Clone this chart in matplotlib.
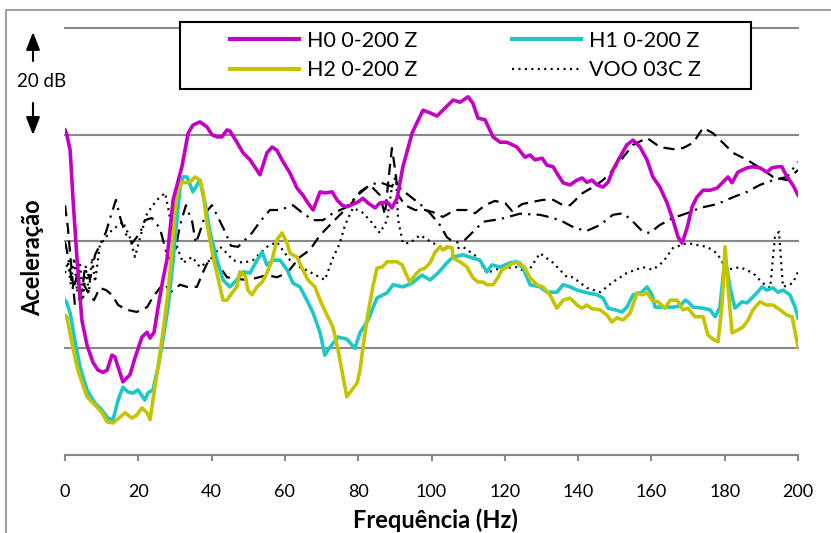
import matplotlib
matplotlib.use('Agg')
import matplotlib.pyplot as plt
from matplotlib.lines import Line2D
from matplotlib.patches import Rectangle, FancyArrowPatch

plt.rcParams['font.family'] = ['Lato', 'DejaVu Sans']

# H0 0-200 Z  (relative level, dB)
h0_freq = [0, 0.5, 1.4, 2.2, 3.3, 4.6, 6.0, 7.6, 9.0, 10.4, 11.5, 12.8, 13.6, 15.8, 17.7, 19.1,
           21.0, 22.4, 23.2, 24.3, 25.4, 26.7, 27.8, 29.5, 31.9, 33.6, 34.9, 36.8, 38.7, 40.1,
           41.5, 42.8, 44.2, 45.0, 46.9, 48.6, 50.5, 53.2, 55.1, 56.5, 57.8, 59.2, 61.4, 63.3,
           64.9, 66.3, 67.7, 69.6, 70.9, 72.9, 74.2, 75.6, 76.9, 78.6, 79.9, 81.3, 82.7, 84.6,
           85.9, 87.9, 89.2, 90.6, 92.2, 94.7, 95.5, 97.7, 99.6, 101.5, 103.1, 105.9, 107.8,
           110.0, 111.3, 112.7, 114.6, 116.8, 118.7, 120.6, 123.3, 125.5, 126.9, 128.2, 130.2,
           131.5, 133.2, 134.5, 135.9, 137.8, 139.7, 141.1, 142.4, 143.8, 145.2, 146.8, 148.2,
           149.5, 151.4, 153.3, 155.0, 156.9, 158.8, 160.4, 162.3, 164.3, 165.9, 167.3, 168.4,
           169.8, 171.1, 172.4, 174.1, 176.0, 177.9, 179.5, 180.9, 182.0, 183.6, 186.1, 187.7,
           189.6, 191.5, 192.9, 194.5, 195.6, 197.0, 198.6, 200]
h0_level = [60.9, 60.0, 57.1, 47.8, 36.5, 25.3, 20.6, 17.4, 15.9, 15.5, 15.9, 18.7, 18.4, 13.7,
            15.0, 18.2, 22.1, 23.0, 21.9, 23.0, 27.7, 32.8, 36.5, 47.8, 54.0, 60.3, 61.8, 62.4,
            61.5, 60.0, 59.6, 59.6, 60.9, 60.7, 58.6, 56.6, 55.3, 52.5, 56.6, 57.7, 57.1, 55.3,
            52.8, 50.0, 48.7, 47.2, 45.9, 49.3, 49.1, 49.3, 47.8, 46.8, 46.5, 47.0, 47.4, 48.1,
            47.2, 46.3, 47.2, 47.4, 46.3, 48.1, 54.0, 60.3, 61.5, 64.6, 64.1, 63.5, 64.6, 66.5,
            66.1, 67.1, 65.9, 63.1, 62.8, 59.6, 58.6, 58.6, 57.7, 55.8, 56.2, 55.3, 55.6, 54.3,
            54.0, 52.5, 51.0, 50.6, 51.5, 51.9, 51.1, 51.5, 50.6, 50.2, 51.1, 53.4, 55.8, 58.1,
            59.0, 57.7, 55.3, 52.1, 50.2, 47.2, 44.0, 40.8, 39.7, 42.7, 46.5, 48.3, 49.6, 49.6,
            50.0, 51.1, 52.1, 51.0, 53.0, 53.8, 54.0, 53.8, 53.0, 53.8, 54.0, 54.0, 52.1, 50.6,
            48.7]

# H1 0-200 Z
h1_freq = [0, 0.5, 1.4, 2.7, 4.1, 6.0, 8.2, 10.1, 11.7, 13.1, 14.5, 15.8, 17.2, 18.6, 19.9,
           21.8, 22.6, 24.0, 25.4, 26.7, 28.1, 29.5, 30.6, 31.4, 32.2, 33.3, 34.9, 36.8, 38.2,
           39.6, 41.5, 43.1, 45.0, 46.9, 48.6, 50.5, 52.4, 53.8, 55.1, 56.8, 58.7, 60.6, 62.2,
           64.1, 66.0, 67.7, 69.6, 70.9, 72.3, 74.5, 76.9, 79.1, 80.5, 82.7, 85.1, 87.9, 89.5,
           92.2, 94.7, 97.4, 99.6, 101.8, 104.2, 105.9, 108.6, 111.3, 113.2, 115.1, 116.5,
           118.7, 121.4, 123.3, 125.0, 126.9, 129.6, 131.5, 134.2, 135.9, 137.8, 139.7, 142.4,
           145.2, 146.8, 148.2, 150.1, 152.0, 153.3, 155.0, 157.4, 158.8, 160.2, 161.0, 163.2,
           165.9, 167.8, 169.2, 170.0, 171.4, 174.1, 176.0, 177.4, 178.7, 180.1, 181.4, 182.8,
           184.7, 186.1, 187.4, 188.8, 190.2, 191.5, 193.2, 194.5, 195.9, 197.8, 199.2, 200]
h1_level = [29.0, 28.5, 26.6, 21.5, 16.5, 12.2, 9.7, 8.4, 6.9, 6.6, 10.3, 12.7, 11.8, 11.6,
            12.2, 10.3, 11.6, 12.2, 16.5, 21.5, 27.7, 36.5, 44.6, 50.2, 52.1, 52.1, 49.3, 51.5,
            47.2, 41.6, 36.5, 32.8, 31.5, 32.8, 34.3, 34.1, 36.5, 38.0, 35.6, 36.5, 36.5, 34.7,
            32.2, 31.5, 29.0, 26.6, 22.9, 18.7, 20.2, 22.1, 21.7, 20.0, 22.9, 25.3, 29.4, 30.4,
            31.9, 31.5, 32.2, 33.7, 32.8, 34.1, 36.0, 37.1, 37.5, 36.9, 36.5, 34.3, 35.6, 35.2,
            36.0, 36.2, 35.0, 31.9, 31.5, 30.5, 30.5, 31.9, 31.5, 30.9, 30.4, 30.0, 29.4, 27.5,
            27.2, 26.8, 27.7, 30.0, 30.5, 31.5, 30.0, 27.7, 27.7, 27.7, 27.9, 29.0, 28.7, 27.7,
            27.5, 27.2, 25.9, 27.7, 37.0, 31.5, 27.5, 28.7, 28.5, 29.4, 30.4, 31.5, 30.9, 31.3,
            30.5, 30.9, 30.0, 27.7, 25.7]

# H2 0-200 Z
h2_freq = [0, 0.5, 1.9, 3.5, 6.0, 8.7, 10.1, 11.5, 13.1, 15.0, 16.4, 18.3, 19.6, 21.0, 22.4,
           23.2, 24.0, 25.4, 26.7, 28.1, 29.2, 30.0, 30.8, 31.9, 33.3, 34.7, 35.5, 36.8, 37.7,
           38.7, 40.4, 41.7, 43.1, 44.2, 45.6, 46.9, 47.7, 49.1, 49.9, 51.0, 52.4, 53.8, 55.1,
           56.5, 57.8, 59.2, 60.6, 61.4, 63.3, 64.9, 66.3, 68.2, 69.6, 71.5, 73.1, 74.5, 75.9,
           76.9, 78.3, 79.7, 80.5, 81.3, 82.7, 84.0, 85.1, 86.5, 87.9, 90.6, 92.0, 92.8, 94.1,
           95.5, 96.9, 98.2, 99.6, 101.0, 102.3, 103.1, 104.2, 105.6, 105.9, 107.8, 109.7,
           111.3, 112.7, 114.1, 115.1, 116.8, 118.1, 119.2, 120.6, 122.2, 124.1, 125.5, 126.9,
           128.8, 130.4, 132.3, 134.2, 135.9, 137.8, 139.7, 141.1, 142.4, 143.8, 146.0, 147.9,
           149.2, 150.6, 152.3, 154.2, 156.1, 157.4, 158.8, 160.2, 161.8, 163.7, 165.1, 167.0,
           168.6, 170.0, 171.9, 174.1, 175.4, 176.8, 178.2, 179.3, 180.1, 180.9, 182.0, 183.6,
           185.0, 186.4, 187.7, 189.6, 191.5, 193.2, 195.1, 197.0, 198.4, 200]
h2_level = [26.2, 25.9, 21.0, 15.9, 10.9, 9.0, 7.9, 6.2, 6.0, 7.1, 7.9, 6.9, 7.5, 8.8, 7.9, 6.6,
            10.3, 16.5, 22.9, 30.4, 38.4, 45.9, 49.6, 51.1, 51.0, 51.5, 52.1, 51.5, 49.1, 43.5,
            37.1, 33.3, 29.0, 29.0, 30.4, 31.5, 34.3, 33.7, 30.9, 30.0, 31.5, 32.4, 34.1, 36.5,
            40.3, 41.6, 39.7, 37.8, 37.1, 34.7, 32.8, 31.5, 29.0, 26.2, 24.0, 19.7, 14.6, 10.9,
            12.2, 13.5, 15.9, 20.2, 26.6, 31.5, 35.0, 35.2, 36.2, 36.2, 35.6, 34.3, 32.4, 33.7,
            34.7, 35.0, 36.0, 38.0, 39.0, 38.4, 39.0, 38.8, 36.9, 36.2, 35.2, 33.2, 32.4, 32.4,
            31.9, 31.9, 33.2, 34.7, 35.2, 36.0, 36.0, 35.0, 33.2, 31.9, 31.5, 30.0, 27.5, 29.0,
            29.4, 28.1, 27.5, 28.1, 27.4, 27.2, 26.2, 24.9, 25.7, 25.3, 26.6, 30.4, 30.0, 30.4,
            29.0, 28.7, 27.5, 29.0, 29.0, 27.2, 27.5, 25.9, 25.9, 22.5, 21.7, 21.2, 28.5, 39.0,
            31.5, 22.9, 23.4, 24.0, 25.3, 27.2, 28.7, 28.1, 28.1, 27.2, 26.2, 25.9, 20.2]

# VOO 03C Z
voo_freq = [0, 0.8, 1.6, 2.5, 3.3, 4.1, 4.9, 5.7, 6.5, 7.4, 8.2, 9.5, 12.3, 15.8, 17.7, 19.1,
            20.5, 22.4, 25.1, 27.3, 28.1, 29.2, 30.6, 32.2, 34.7, 36.8, 39.6, 42.3, 44.2, 45.8,
            48.6, 51.3, 55.1, 57.8, 61.4, 64.1, 66.8, 70.9, 73.1, 75.0, 76.4, 78.6, 81.0, 83.2,
            85.9, 87.9, 89.2, 90.3, 90.9, 92.2, 94.1, 96.9, 100.4, 105.0, 108.6, 112.4, 115.1,
            118.7, 123.3, 126.1, 129.6, 133.2, 137.0, 138.6, 142.4, 146.0, 149.5, 153.3, 157.7,
            160.4, 163.2, 165.9, 169.7, 175.2, 177.9, 180.6, 184.2, 187.7, 190.4, 192.4, 193.7,
            194.8, 195.9, 198.6, 200]
voo_level = [34.1, 36.2, 31.9, 36.9, 30.5, 36.2, 29.0, 35.0, 30.4, 36.9, 32.4, 39.3, 41.8,
             43.7, 40.8, 37.1, 40.8, 45.3, 47.8, 49.1, 46.5, 42.2, 39.0, 36.0, 37.1, 35.2, 36.5,
             39.0, 37.8, 36.5, 36.0, 36.5, 39.0, 39.9, 36.5, 35.2, 34.3, 32.8, 36.9, 39.7, 43.1,
             46.3, 45.5, 44.0, 41.6, 44.0, 50.2, 52.5, 44.0, 39.7, 39.7, 41.2, 39.7, 38.4, 39.0,
             37.1, 34.1, 35.0, 35.2, 34.1, 37.8, 36.0, 33.3, 33.3, 31.3, 30.5, 32.4, 34.1, 35.2,
             34.7, 36.2, 38.8, 39.7, 39.0, 37.8, 34.7, 35.2, 34.1, 32.2, 31.3, 40.8, 41.8, 31.5,
             32.2, 34.3]

# second reference (dashed)
ref_a_freq = [0, 0.8, 1.6, 2.7, 3.8, 4.9, 6.3, 7.9, 9.5, 11.2, 12.8, 14.5, 16.9, 19.6, 22.4,
              24.0, 25.9, 27.3, 28.6, 31.4, 33.3, 36.0, 37.7, 39.6, 41.5, 44.2, 46.9, 49.7, 52.4,
              55.1, 57.8, 60.6, 64.1, 66.8, 69.6, 72.3, 75.0, 77.8, 80.5, 83.2, 85.9, 87.3, 88.4,
              89.2, 90.0, 90.9, 92.8, 95.5, 98.2, 100.4, 103.1, 106.4, 109.7, 111.9, 114.6, 117.3,
              120.1, 122.0, 124.7, 127.4, 130.4, 133.2, 135.9, 137.8, 141.3, 144.1, 146.8, 149.5,
              152.3, 155.0, 158.8, 162.3, 165.9, 168.6, 171.4, 174.1, 176.8, 179.5, 182.3, 186.1,
              189.6, 193.2, 197.0, 200]
ref_a_level = [46.8, 42.5, 36.2, 28.1, 29.0, 32.2, 30.5, 29.0, 31.3, 30.9, 30.0, 28.1, 27.2,
               26.8, 27.7, 29.6, 31.3, 32.2, 30.4, 31.9, 31.5, 31.5, 34.3, 37.1, 36.0, 33.3, 33.0,
               32.8, 33.2, 33.7, 33.3, 34.1, 37.1, 38.4, 41.2, 43.1, 45.0, 46.8, 49.3, 50.6, 48.7,
               45.0, 52.5, 57.5, 53.8, 48.7, 46.8, 45.9, 45.9, 45.5, 44.6, 45.9, 45.9, 45.3, 46.8,
               47.6, 47.2, 45.7, 47.0, 47.4, 47.8, 47.8, 46.8, 46.8, 49.1, 50.2, 51.5, 53.4, 55.8,
               58.1, 59.4, 57.7, 57.3, 57.5, 58.5, 61.3, 60.3, 58.5, 56.6, 55.3, 53.8, 52.1, 51.5,
               53.4]

# third reference (dash-dot)
ref_b_freq = [0, 0.5, 1.4, 2.2, 3.3, 4.4, 5.5, 6.8, 8.2, 9.5, 11.2, 12.6, 13.9, 15.0, 16.4,
              18.3, 20.5, 21.8, 23.7, 25.9, 27.8, 29.5, 31.4, 33.0, 34.7, 35.7, 36.8, 38.5, 40.1,
              41.7, 43.7, 45.3, 47.2, 49.1, 51.0, 53.2, 55.9, 58.7, 62.2, 64.9, 67.7, 70.4, 73.1,
              76.4, 79.9, 83.2, 85.9, 88.7, 91.4, 94.1, 96.9, 99.6, 102.3, 104.2, 106.4, 109.1,
              111.9, 114.1, 118.7, 124.1, 129.6, 133.2, 135.9, 139.2, 142.4, 146.0, 149.5, 152.3,
              155.0, 157.7, 159.6, 162.3, 165.9, 169.7, 173.3, 177.9, 182.3, 186.1, 189.6, 193.2,
              197.0, 200]
ref_b_level = [39.9, 38.4, 34.7, 30.9, 33.7, 29.0, 35.6, 32.8, 37.5, 39.3, 41.8, 45.0, 47.8,
               44.6, 41.6, 39.7, 41.6, 44.0, 44.4, 42.5, 37.5, 36.2, 43.1, 46.8, 43.7, 39.7, 41.8,
               45.5, 46.8, 44.6, 41.8, 39.2, 39.0, 40.3, 41.6, 43.7, 45.9, 45.9, 46.8, 45.3, 44.0,
               44.0, 45.3, 46.3, 48.7, 50.6, 51.1, 50.4, 50.0, 48.5, 47.0, 45.3, 43.1, 40.8, 39.7,
               40.3, 42.2, 43.7, 44.2, 45.2, 45.0, 44.4, 43.7, 42.5, 42.0, 43.1, 45.0, 45.3, 43.7,
               41.8, 41.6, 43.1, 44.4, 45.3, 46.3, 47.0, 48.3, 49.3, 50.6, 51.5, 52.1, 54.9]

freq_ticks = list(range(0, 201, 20))
grid_levels = [20, 40, 60, 80]

W, H = 831, 533
fig = plt.figure(figsize=(W / 100, H / 100), dpi=100)
ax = fig.add_axes([65 / W, 1 - 455 / H, (798 - 65) / W, (455 - 28) / H])

grey = '#898989'
for g in grid_levels:
    ax.axhline(g, color=grey, lw=1.5, zorder=0, clip_on=False)

ax.plot(ref_a_freq, ref_a_level, color='k', lw=1.6, ls=(0, (5, 3)), zorder=2)
ax.plot(ref_b_freq, ref_b_level, color='k', lw=1.6, ls=(0, (5.5, 2.8, 1, 2.8)), zorder=2)
ax.plot(voo_freq, voo_level, color='k', lw=1.6, ls=(0, (0.9, 2.0)), zorder=2)
ax.plot(h1_freq, h1_level, color='#1EC8C8', lw=2.6, zorder=3)
ax.plot(h2_freq, h2_level, color='#C4C400', lw=2.6, zorder=4)
ax.plot(h0_freq, h0_level, color='#C400C4', lw=2.6, zorder=5)

ax.set_xlim(0, 200)
ax.set_ylim(0, 80)
ax.set_xticks(freq_ticks)
ax.set_yticks([])
for s in ['top', 'right', 'left']:
    ax.spines[s].set_visible(False)
ax.spines['bottom'].set_color(grey)
ax.spines['bottom'].set_linewidth(1.5)
ax.tick_params(axis='x', length=4, width=1.5, color=grey, labelsize=13, pad=17)

fig.text(435 / W, 1 - 520 / H, 'Frequência (Hz)', ha='center', va='center',
         fontsize=17, fontweight='bold')
fig.text(33 / W, 1 - 258 / H, 'Aceleração', ha='center', va='center', rotation=90,
         fontsize=17, fontweight='bold')

# 20 dB scale marker
fig.text(42 / W, 1 - 81 / H, '20 dB', ha='center', va='center', fontsize=13.5)
for y0, y1 in [(61, 32), (103, 135)]:
    fig.add_artist(FancyArrowPatch((33 / W, 1 - y0 / H), (33 / W, 1 - y1 / H),
                                   transform=fig.transFigure, arrowstyle='-|>,head_length=0.9,head_width=0.35',
                                   mutation_scale=12, color='k', lw=1.5, shrinkA=0, shrinkB=0))

# outer chart border
fig.add_artist(Rectangle((6 / W, -0.1), 1.2, 1 - 10 / H + 0.1, transform=fig.transFigure,
                         fill=False, edgecolor='#8c8c8c', lw=1.2))

# legend box and entries
fig.add_artist(Rectangle((180 / W, 1 - 89 / H), (751 - 180) / W, (89 - 22) / H,
                         transform=fig.transFigure, facecolor='white', edgecolor='k',
                         lw=1.5, zorder=4))
handles = [Line2D([], [], color='#C400C4', lw=3),
           Line2D([], [], color='#C4C400', lw=3),
           Line2D([], [], color='#1EC8C8', lw=3),
           Line2D([], [], color='k', lw=1.6, ls=(0, (0.9, 2.0)))]
labels = ['H0 0-200 Z', 'H2 0-200 Z', 'H1 0-200 Z', 'VOO 03C Z']
leg = fig.legend(handles, labels, ncol=2, loc='center', frameon=False,
                 bbox_to_anchor=((180 + 751) / 2 / W, 1 - (22 + 89) / 2 / H),
                 fontsize=15.5, handlelength=3.2, handletextpad=0.37, columnspacing=4.4,
                 labelspacing=0.45, borderpad=0)
leg.set_zorder(6)

fig.savefig('out.png', dpi=100)
